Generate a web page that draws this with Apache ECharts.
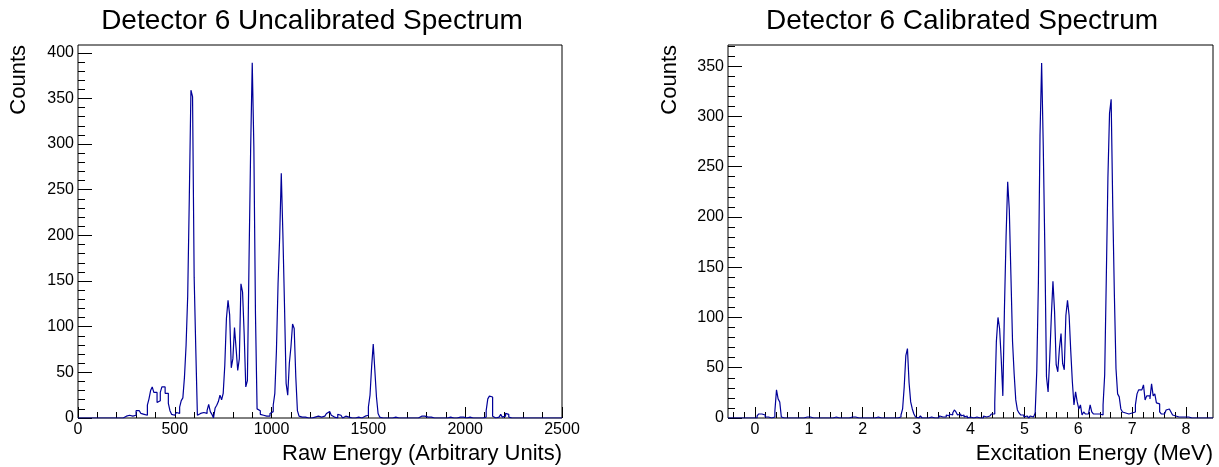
<!DOCTYPE html>
<html>
<head>
<meta charset="utf-8">
<script src="https://cdn.jsdelivr.net/npm/echarts@6/dist/echarts.min.js"></script>
<style>
html,body{margin:0;padding:0;background:#fff;}
#chart{width:1219px;height:467px;}
</style>
</head>
<body>
<div id="chart"></div>
<script>
// ---------------- data ----------------
const leftTitle = 'Detector 6 Uncalibrated Spectrum';
const rightTitle = 'Detector 6 Calibrated Spectrum';
const leftXName = 'Raw Energy (Arbitrary Units)';
const rightXName = 'Excitation Energy (MeV)';
const yName = 'Counts';

// Uncalibrated histogram: 300 bins from 0 to 2500
const leftRange = [0, 2500];
const leftCounts = [
  0,0,0,0,0,0,0,0,0,0, 0,0,0,0,0,0,0,0,0,0, 0,0,0,0,
  1,0,1,0,1,2,1,3,3,2,3,3,
  8,8,6,5,4,5,3,14,21,30,34,28,
  28,17,19,28,34,34,27,27,16,8,4,3,
  2,6,5,12,19,22,45,80,134,242,359,352,
  154,76,3,5,4,6,4,5,8,15,7,4,
  0,11,14,18,25,20,27,58,109,129,113,55,
  65,99,76,52,65,147,138,92,34,41,171,293,
  389,297,114,10,8,4,3,2,2,1,2,5,
  7,14,27,74,147,198,268,201,123,38,25,60,
  78,103,98,45,8,2,1,0,1,0,0,1,
  0,0,1,3,2,3,1,0,2,1,5,7,
  6,3,1,2,0,4,3,1,0,2,0,1,
  0,0,1,0,0,1,0,0,1,2,3,3,
  12,25,56,81,52,23,5,1,0,0,0,0,
  0,0,0,0,1,0,0,0,0,0,0,0,0,0,0,0,0,0,0,0,
  2,1,2,0,1,0,1,1,0,1,0,0,
  0,1,0,0,0,0,1,0,0,0,0,0,
  1,0,1,0,0,0,1,0,0,0,0,0,
  0,0,0,0,1,8,21,24,23,2,0,0,
  1,3,4,1,2,5,4,1,0,0,0,0,
  0,0,0,0,0,0,0,0,0,0,0,0,0,0,0,0,0,0,0,1,0,0,0,0,0,0,0,0
];

// Calibrated histogram: 300 bins from -0.5 to 8.5 MeV
const rightRange = [-0.5, 8.5];
const rightCounts = [
  0,0,0,0,0,0,0,0,0,0,0,0,0,0,0,0,0,
  0,2,4,4,3,3,1,1,0,0,0,1,7,28,19,16,1,
  0,0,0,0,0,0,0,0,0,0,0,0,0,0,
  1,0,1,1,0,1,
  0,0,0,0,0,0,0,
  1,0,0,0,0,1,0,0,0,0,0,0,0,0,0,1,2,1,0,0,0,0,0,0,1,0,0,0,0,0,0,1,0,0,0,0,0,0,0,0,0,0,0,0,0,
  1,3,9,31,62,69,35,16,9,4,1,0,0,2,0,0,1,0,0,1,0,
  0,1,0,1,2,1,2,1,3,2,4,3,5,8,6,3,4,2,3,1,2,0,1,2,0,0,1,0,0,1,0,2,1,1,2,1,4,4,
  15,76,100,89,59,22,109,180,235,207,142,76,44,18,8,5,3,3,1,2,3,0,2,1,0,5,47,135,281,353,271,167,41,26,59,101,136,106,53,46,69,84,54,48,102,117,102,67,36,13,26,16,9,13,3,6,4,4,5,13,6,4,4,3,4,3,3,
  13,43,139,239,303,317,210,122,49,24,21,9,6,5,6,4,4,5,4,6,13,24,28,28,29,33,18,22,22,19,34,22,24,15,14,6,4,4,4,8,9,9,6,3,2,2,1,2,1,1,1,1,1,
  0,0,0,0,0,0,0,0,0,0,0,0,0,0,0
];

// axis scales and tick labels
const leftYMax = 408.5;
const rightYMax = 371;
const leftXMajor = [0, 500, 1000, 1500, 2000, 2500];
const leftYMajor = [0, 50, 100, 150, 200, 250, 300, 350, 400];
const rightXMajor = [0, 1, 2, 3, 4, 5, 6, 7, 8];
const rightYMajor = [0, 50, 100, 150, 200, 250, 300, 350];

// ---------------- helpers ----------------
function histPoints(range, counts) {
  const w = (range[1] - range[0]) / counts.length;
  const pts = counts.map((c, i) => [range[0] + i * w, c]);
  pts.push([range[1], counts[counts.length - 1]]);
  return pts;
}
function minorTicks(lo, hi, step, major) {
  const out = [];
  const n = Math.round((hi - lo) / step);
  for (let k = 0; k <= n; k++) {
    const v = +(lo + k * step).toFixed(6);
    if (!major.some(m => Math.abs(m - v) < 1e-9)) out.push(v);
  }
  return out;
}
const leftXMinor = minorTicks(0, 2500, 100, leftXMajor);
const leftYMinor = minorTicks(0, 400, 10, leftYMajor);
const rightXMinor = minorTicks(-0.4, 8.4, 0.2, rightXMajor);
const rightYMinor = minorTicks(0, 370, 10, rightYMajor);

const FONT = '"Liberation Sans", Arial, Helvetica, sans-serif';
const lineColor = '#000099';
const plain = v => String(v);

function xAxes(grid, range, major, minor) {
  return [
    {
      gridIndex: grid, type: 'value', position: 'bottom', min: range[0], max: range[1],
      axisLine: {show: false, onZero: false}, splitLine: {show: false},
      axisTick: {show: true, inside: true, length: 11, customValues: major, lineStyle: {color: '#000', width: 1}},
      axisLabel: {show: true, customValues: major, formatter: plain, color: '#000', fontSize: 16, fontFamily: FONT, margin: 4}
    },
    {
      gridIndex: grid, type: 'value', position: 'bottom', min: range[0], max: range[1],
      axisLine: {show: false, onZero: false}, splitLine: {show: false},
      axisTick: {show: true, inside: true, length: 6, customValues: minor, lineStyle: {color: '#000', width: 1}},
      axisLabel: {show: false}
    }
  ];
}
function yAxes(grid, max, major, minor) {
  return [
    {
      gridIndex: grid, type: 'value', position: 'left', min: 0, max: max,
      axisLine: {show: false, onZero: false}, splitLine: {show: false},
      axisTick: {show: true, inside: true, length: 14, customValues: major, lineStyle: {color: '#000', width: 1}},
      axisLabel: {show: true, customValues: major, formatter: plain, color: '#000', fontSize: 16, fontFamily: FONT, margin: 4}
    },
    {
      gridIndex: grid, type: 'value', position: 'left', min: 0, max: max,
      axisLine: {show: false, onZero: false}, splitLine: {show: false},
      axisTick: {show: true, inside: true, length: 7, customValues: minor, lineStyle: {color: '#000', width: 1}},
      axisLabel: {show: false}
    }
  ];
}

function txt(x, y, text, size, align, rot) {
  return {
    type: 'text', x: x, y: y, rotation: rot || 0, z: 100,
    style: {text: text, fill: '#000', font: size + 'px ' + FONT,
            align: align, verticalAlign: 'middle', textAlign: align, textVerticalAlign: 'middle'}
  };
}

const chart = echarts.init(document.getElementById('chart'), null, {renderer: 'canvas'});
chart.setOption({
  animation: false,
  backgroundColor: '#fff',
  grid: [
    {left: 78, top: 45, width: 484, height: 373, show: true, borderColor: '#000', borderWidth: 1, backgroundColor: 'transparent', containLabel: false, outerBoundsMode: 'none'},
    {left: 728, top: 45, width: 485, height: 373, show: true, borderColor: '#000', borderWidth: 1, backgroundColor: 'transparent', containLabel: false, outerBoundsMode: 'none'}
  ],
  xAxis: [].concat(
    xAxes(0, leftRange, leftXMajor, leftXMinor),
    xAxes(1, rightRange, rightXMajor, rightXMinor)
  ),
  yAxis: [].concat(
    yAxes(0, leftYMax, leftYMajor, leftYMinor),
    yAxes(1, rightYMax, rightYMajor, rightYMinor)
  ),
  series: [
    {type: 'line', xAxisIndex: 0, yAxisIndex: 0, step: 'end', data: histPoints(leftRange, leftCounts),
     symbol: 'none', showSymbol: false, lineStyle: {color: lineColor, width: 1.2}, z: 5},
    {type: 'line', xAxisIndex: 2, yAxisIndex: 2, step: 'end', data: histPoints(rightRange, rightCounts),
     symbol: 'none', showSymbol: false, lineStyle: {color: lineColor, width: 1.2}, z: 5}
  ],
  graphic: [
    txt(312, 21, leftTitle, 28, 'center'),
    txt(962, 21, rightTitle, 28, 'center'),
    txt(562, 454, leftXName, 22, 'right'),
    txt(1213, 454, rightXName, 22, 'right'),
    txt(19, 45, yName, 22, 'right', Math.PI / 2),
    txt(670, 45, yName, 22, 'right', Math.PI / 2)
  ]
});
</script>
</body>
</html>
